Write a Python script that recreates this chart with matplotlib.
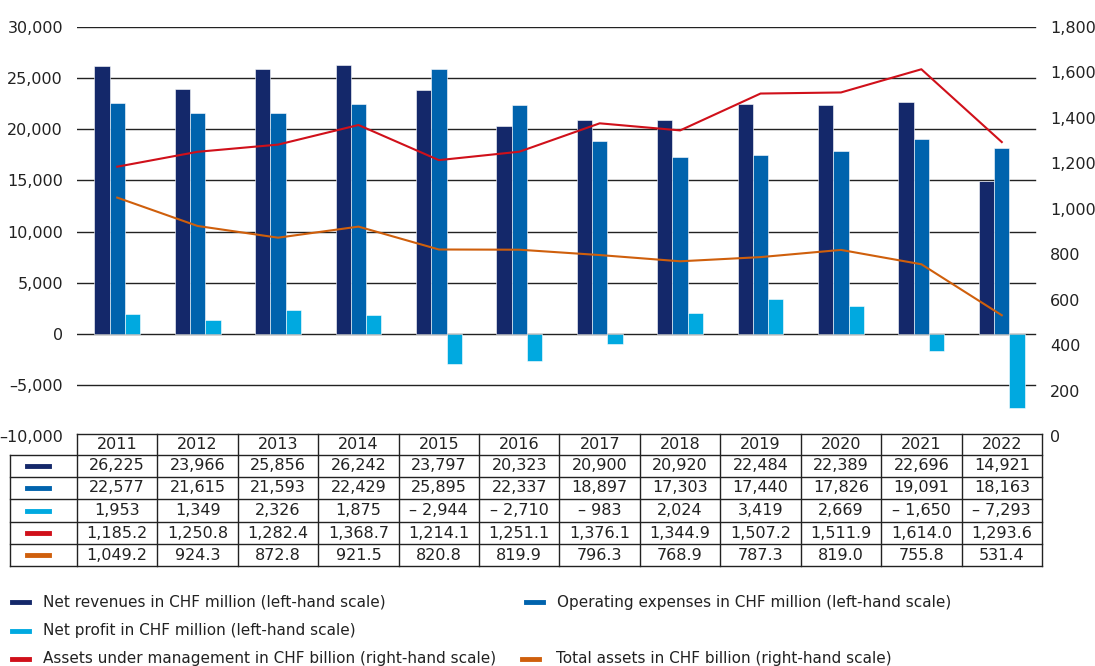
import numpy as np
import matplotlib
matplotlib.use("Agg")
import matplotlib.pyplot as plt
from matplotlib.lines import Line2D
from matplotlib.ticker import FuncFormatter
import matplotlib.transforms as mtransforms

plt.rcParams.update({
    "font.family": ["DejaVu Sans"],
    "font.size": 11,
})

# ---------------------------
# Data
# ---------------------------
years = ["2011", "2012", "2013", "2014", "2015", "2016",
         "2017", "2018", "2019", "2020", "2021", "2022"]
net_revenues = [26225, 23966, 25856, 26242, 23797, 20323,
                20900, 20920, 22484, 22389, 22696, 14921]
operating_expenses = [22577, 21615, 21593, 22429, 25895, 22337,
                      18897, 17303, 17440, 17826, 19091, 18163]
net_profit = [1953, 1349, 2326, 1875, -2944, -2710,
              -983, 2024, 3419, 2669, -1650, -7293]
aum = [1185.2, 1250.8, 1282.4, 1368.7, 1214.1, 1251.1,
       1376.1, 1344.9, 1507.2, 1511.9, 1614.0, 1293.6]
total_assets = [1049.2, 924.3, 872.8, 921.5, 820.8, 819.9,
                796.3, 768.9, 787.3, 819.0, 755.8, 531.4]

left_ticks = [-10000, -5000, 0, 5000, 10000, 15000, 20000, 25000, 30000]
right_ticks = [0, 200, 400, 600, 800, 1000, 1200, 1400, 1600, 1800]

legend_labels = [
    "Net revenues in CHF million (left-hand scale)",
    "Operating expenses in CHF million (left-hand scale)",
    "Net profit in CHF million (left-hand scale)",
    "Assets under management in CHF billion (right-hand scale)",
    "Total assets in CHF billion (right-hand scale)",
]

COL_REV = "#14286a"
COL_OPEX = "#0063ad"
COL_PROFIT = "#00a9e0"
COL_AUM = "#d0101a"
COL_TA = "#cf5f0c"
series_colors = [COL_REV, COL_OPEX, COL_PROFIT, COL_AUM, COL_TA]


def fmt_int(v):
    s = f"{abs(v):,.0f}"
    return ("\u2013 " + s) if v < 0 else s


def fmt_dec(v):
    return f"{v:,.1f}"


def fmt_tick(v, pos=None):
    s = f"{abs(v):,.0f}"
    return ("\u2013" + s) if v < 0 else s


# ---------------------------
# Figure
# ---------------------------
W, H = 1095, 666
fig = plt.figure(figsize=(W / 100, H / 100), dpi=100)


def fx(px):
    return px / W


def fy(py):
    return 1 - py / H


ax_left, ax_right = 77, 1042
ax_top, ax_bottom = 27, 436
ax = fig.add_axes([fx(ax_left), fy(ax_bottom), fx(ax_right - ax_left), (ax_bottom - ax_top) / H])
ax2 = ax.twinx()

x = np.arange(len(years))
bw = 0.19
ax.bar(x - bw, net_revenues, width=bw, color=COL_REV, edgecolor="white", linewidth=0.4, zorder=3)
ax.bar(x, operating_expenses, width=bw, color=COL_OPEX, edgecolor="white", linewidth=0.4, zorder=3)
ax.bar(x + bw, net_profit, width=bw, color=COL_PROFIT, edgecolor="white", linewidth=0.4, zorder=3)

ax2.plot(x, aum, color=COL_AUM, linewidth=1.5, zorder=4)
ax2.plot(x, total_assets, color=COL_TA, linewidth=1.5, zorder=4)

ax.set_xlim(-0.5, len(years) - 0.5)
ax.set_ylim(-10000, 30000)
ax2.set_ylim(0, 1800)
ax.set_yticks(left_ticks)
ax2.set_yticks(right_ticks)
ax.yaxis.set_major_formatter(FuncFormatter(fmt_tick))
ax2.yaxis.set_major_formatter(FuncFormatter(fmt_tick))
ax.set_xticks([])
ax.tick_params(axis="y", length=0, pad=10, labelsize=11.5, colors="#222222")
ax2.tick_params(axis="y", length=0, pad=6, labelsize=11.5, colors="#222222")

grid_end = (1035 - ax_left) / (ax_right - ax_left)
for t in left_ticks[1:]:
    ax.axhline(t, xmin=0, xmax=grid_end, color="#222222", linewidth=1.0, zorder=2)

for a in (ax, ax2):
    for s in a.spines.values():
        s.set_visible(False)
    a.set_facecolor("none")

# ---------------------------
# Data table below the axes
# ---------------------------
trans = mtransforms.blended_transform_factory(ax.transData, fig.transFigure)
row_edges_px = [434, 455, 477, 499, 522, 544, 566]
row_edges = [fy(p) for p in row_edges_px]
tbl_left = -0.5
tbl_right = len(years) - 0.5
lab_left = ax.transData.inverted().transform((fig.transFigure.transform((fx(10), 0))[0], 0))[0]

line_kw = dict(color="#222222", linewidth=1.0, transform=trans, clip_on=False)
# horizontal lines
fig.add_artist(Line2D([tbl_left, tbl_right], [row_edges[0]] * 2, **line_kw))
for ye in row_edges[1:]:
    fig.add_artist(Line2D([lab_left, tbl_right], [ye] * 2, **line_kw))
# vertical lines
for i in range(len(years) + 1):
    fig.add_artist(Line2D([i - 0.5] * 2, [row_edges[0], row_edges[-1]], **line_kw))
fig.add_artist(Line2D([lab_left] * 2, [row_edges[1], row_edges[-1]], **line_kw))

row_values = [
    [fmt_int(v) for v in net_revenues],
    [fmt_int(v) for v in operating_expenses],
    [fmt_int(v) for v in net_profit],
    [fmt_dec(v) for v in aum],
    [fmt_dec(v) for v in total_assets],
]

hdr_y = (row_edges[0] + row_edges[1]) / 2
for i, yr in enumerate(years):
    fig.text(i, hdr_y, yr, transform=trans, ha="center", va="center", fontsize=11.5, color="#222222")

for r, vals in enumerate(row_values):
    yc = (row_edges[r + 1] + row_edges[r + 2]) / 2
    for i, s in enumerate(vals):
        fig.text(i, yc, s, transform=trans, ha="center", va="center", fontsize=11.5, color="#222222")
    fig.add_artist(Line2D([fx(27), fx(49)], [yc, yc], color=series_colors[r],
                          linewidth=3.5, transform=fig.transFigure))

# ---------------------------
# Legend
# ---------------------------
legend_pos = [(12, 43, 602), (526, 557, 602), (12, 43, 631), (12, 43, 659), (522, 556, 659)]
for (mx, tx, ty), lab, col in zip(legend_pos, legend_labels, series_colors):
    fig.add_artist(Line2D([fx(mx), fx(mx + 17)], [fy(ty), fy(ty)], color=col,
                          linewidth=3.5, transform=fig.transFigure))
    fig.text(fx(tx), fy(ty), lab, ha="left", va="center", fontsize=11, color="#222222")

fig.savefig("out.png", dpi=100)
